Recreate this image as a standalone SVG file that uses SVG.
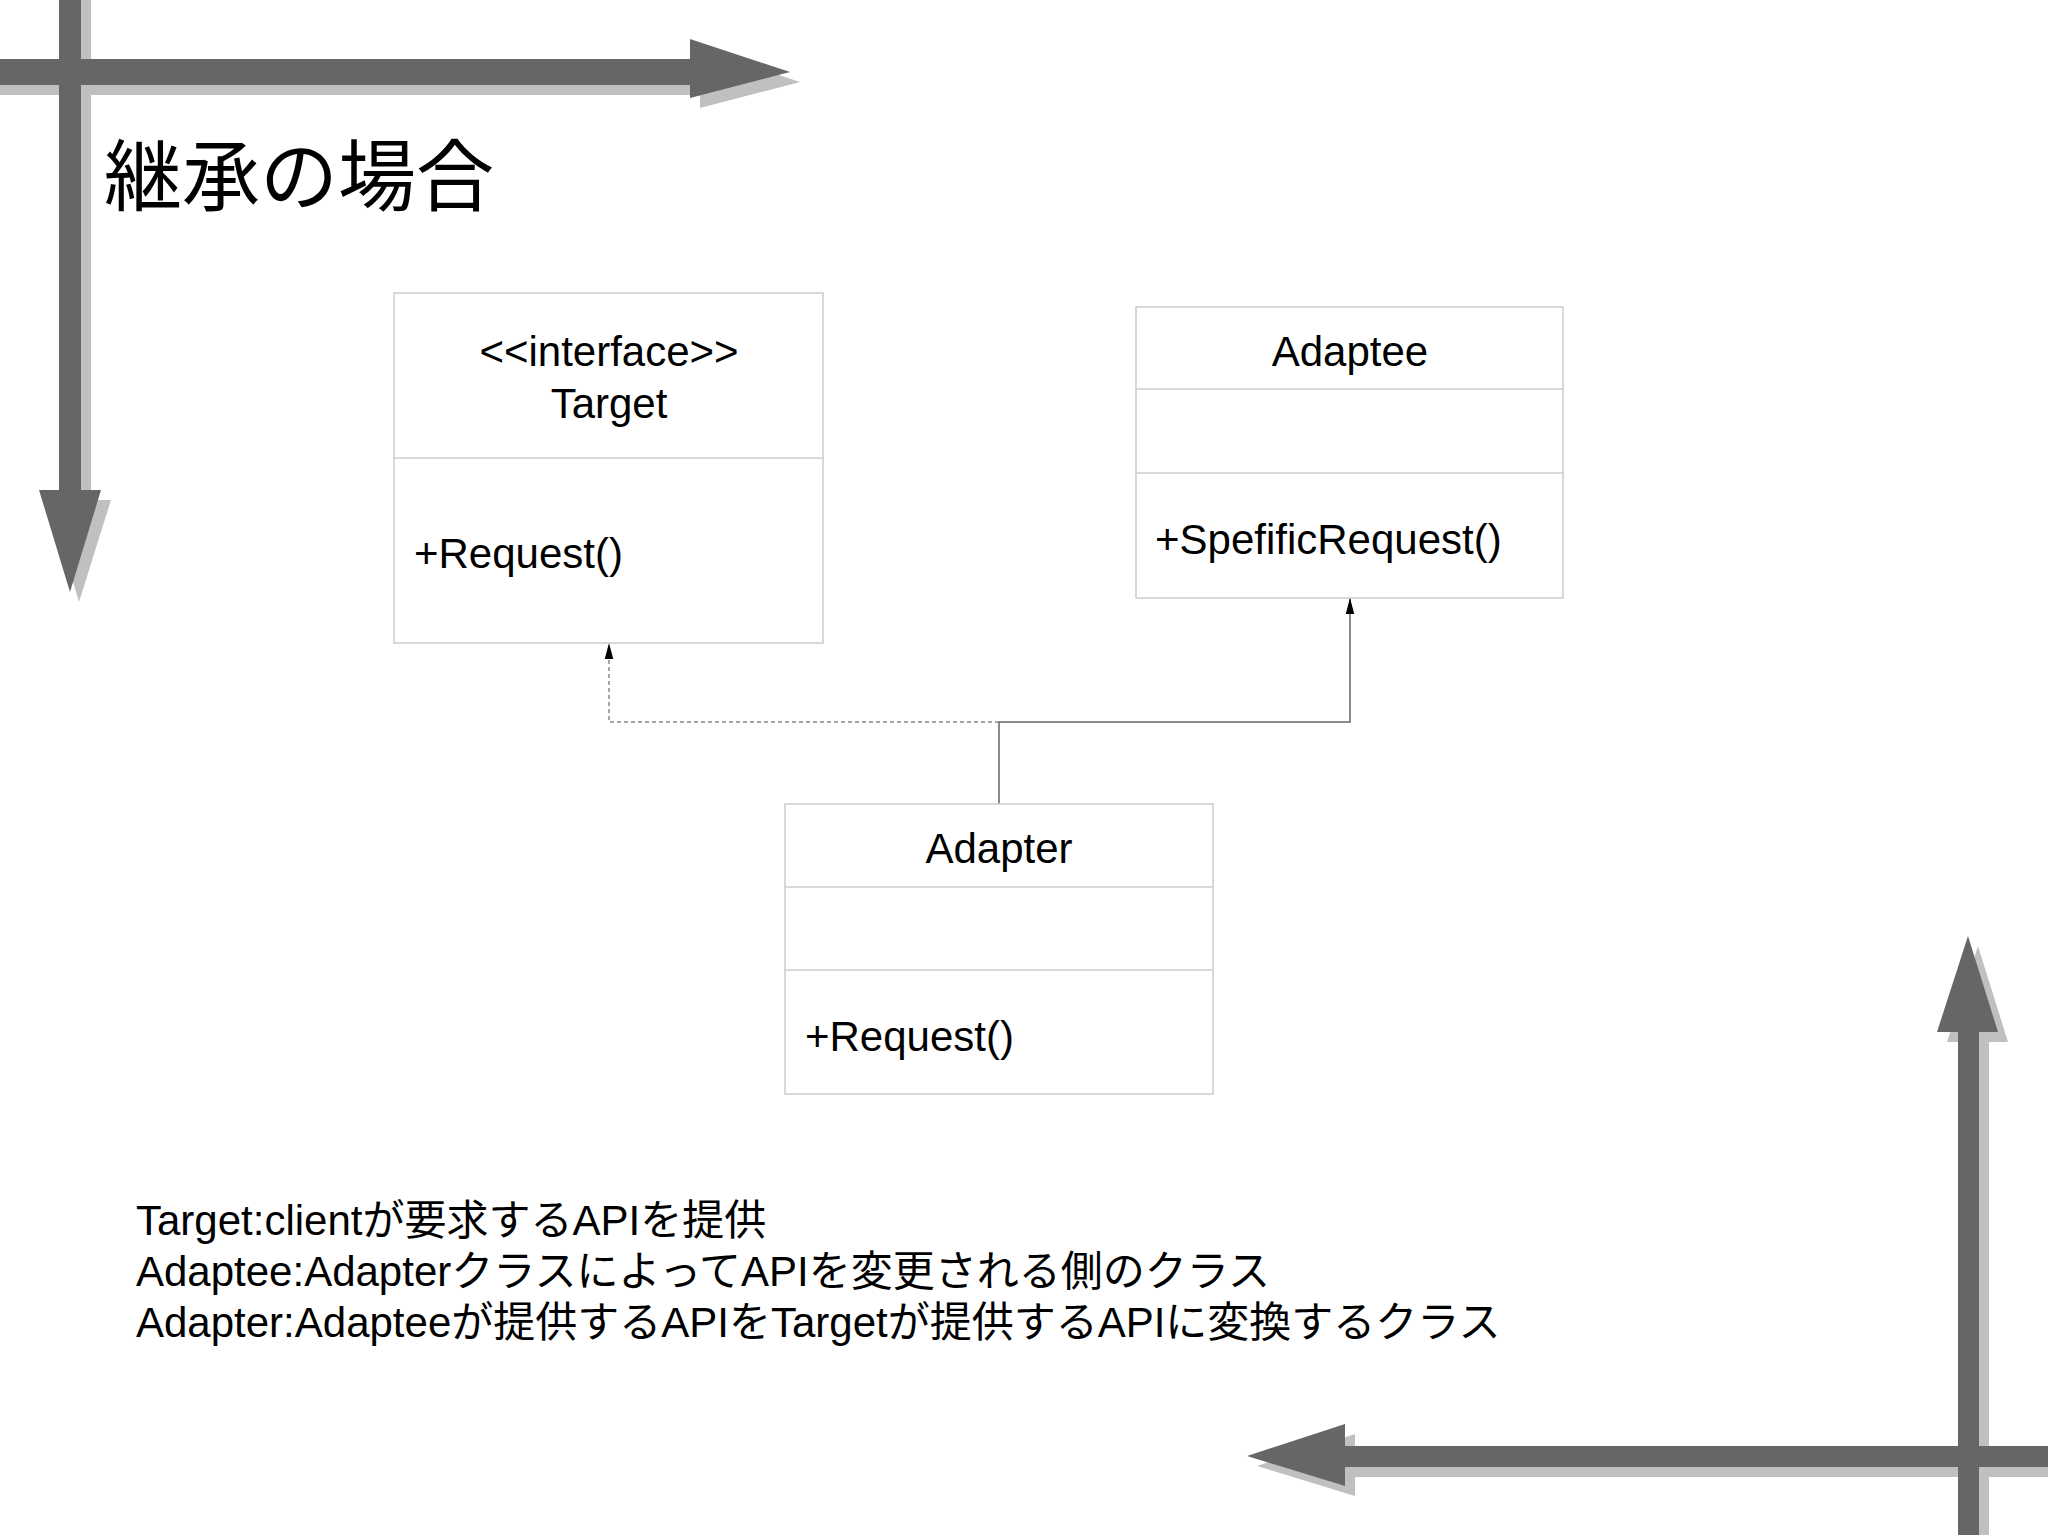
<svg xmlns="http://www.w3.org/2000/svg" width="2048" height="1535" viewBox="0 0 2048 1535">
<defs>
<style>
.box{fill:#fff;stroke:#ccc;stroke-width:1.5}
.dv{stroke:#ccc;stroke-width:1.5}
.t{font-family:"Liberation Sans","Noto Sans CJK JP",sans-serif;fill:#000}
.sh{fill:#c0c0c0}
.ar{fill:#666}
</style>
<marker id="ah" markerWidth="16" markerHeight="30" refX="30" refY="8" viewBox="0 0 30 16" orient="auto" markerUnits="userSpaceOnUse">
<path d="M0,0 L30,8 L0,16 Z" fill="#000"/>
</marker>
</defs>
<rect width="2048" height="1535" fill="#fff"/>
<g id="deco">
<path class="sh" d="M0,69 H700 V49 L800,82 L700,108 V95 H0 Z"/>
<path class="sh" d="M69,0 H91 V500 H111 L79,602 L49,500 H69 Z"/>
<path class="ar" d="M0,59 H690 V39 L790,72 L690,98 V85 H0 Z"/>
<path class="ar" d="M59,0 H81 V490 H101 L70,592 L39,490 H59 Z"/>
<path class="sh" d="M1968,1535 V1042 H2008 L1978,946 L1947,1042 H1989 V1535 Z"/>
<path class="sh" d="M2048,1456 H1355 V1434 L1257,1466 L1355,1496 V1477 H2048 Z"/>
<path class="ar" d="M1958,1535 V1032 H1998 L1968,936 L1937,1032 H1979 V1535 Z"/>
<path class="ar" d="M2048,1446 H1345 V1424 L1247,1456 L1345,1486 V1467 H2048 Z"/>
</g>
<text class="t" x="104" y="205" font-size="78">継承の場合</text>
<g id="connectors">
<path d="M999,804 V722 H1350 V598" fill="none" stroke="#666" stroke-width="1.5" marker-end="url(#ah)"/>
<path d="M999,722 H609 V643" fill="none" stroke="#888" stroke-width="1.5" stroke-dasharray="4,3" marker-end="url(#ah)"/>
</g>
<g id="target">
<rect class="box" x="394" y="293" width="429" height="350"/>
<line class="dv" x1="394" y1="458" x2="823" y2="458"/>
<text class="t" x="609" y="366" font-size="42" text-anchor="middle">&lt;&lt;interface&gt;&gt;</text>
<text class="t" x="609" y="418" font-size="42" text-anchor="middle">Target</text>
<text class="t" x="414" y="568" font-size="42">+Request()</text>
</g>
<g id="adaptee">
<rect class="box" x="1136" y="307" width="427" height="291"/>
<line class="dv" x1="1136" y1="389" x2="1563" y2="389"/>
<line class="dv" x1="1136" y1="473" x2="1563" y2="473"/>
<text class="t" x="1350" y="366" font-size="42" text-anchor="middle">Adaptee</text>
<text class="t" x="1155" y="554" font-size="42">+SpefificRequest()</text>
</g>
<g id="adapter">
<rect class="box" x="785" y="804" width="428" height="290"/>
<line class="dv" x1="785" y1="887" x2="1213" y2="887"/>
<line class="dv" x1="785" y1="970" x2="1213" y2="970"/>
<text class="t" x="999" y="863" font-size="42" text-anchor="middle">Adapter</text>
<text class="t" x="805" y="1051" font-size="42">+Request()</text>
</g>
<g id="notes" class="t" font-size="42">
<text class="t" x="136" y="1235">Target:clientが要求するAPIを提供</text>
<text class="t" x="136" y="1286">Adaptee:AdapterクラスによってAPIを変更される側のクラス</text>
<text class="t" x="136" y="1337">Adapter:Adapteeが提供するAPIをTargetが提供するAPIに変換するクラス</text>
</g>
</svg>
